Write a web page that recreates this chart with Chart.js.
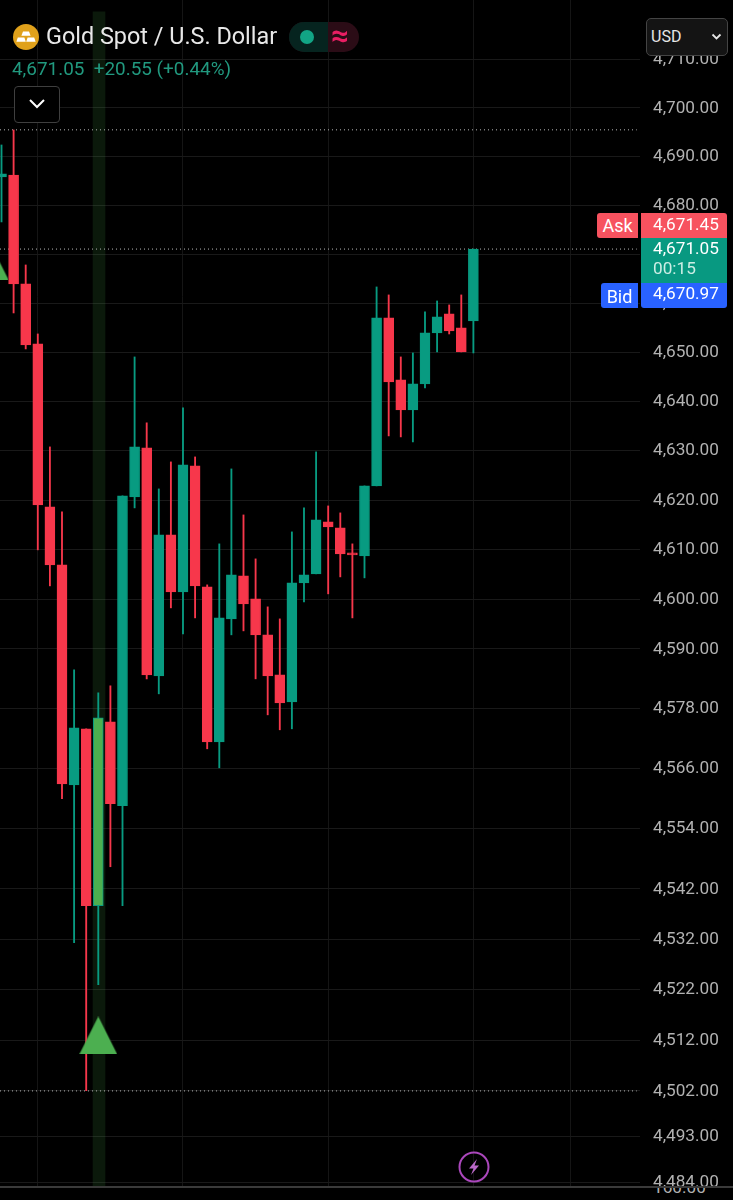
<!DOCTYPE html>
<html>
<head>
<meta charset="utf-8">
<title>Gold Spot / U.S. Dollar</title>
<script src="https://cdn.jsdelivr.net/npm/chart.js@4/dist/chart.umd.min.js"></script>
<style>
  html, body { margin: 0; padding: 0; background: #000; }
  body { width: 733px; height: 1200px; position: relative; overflow: hidden; font-family: Roboto, sans-serif; }
  #wrap { position: absolute; left: 0; top: 0; width: 733px; height: 1200px; }
  .abs { position: absolute; white-space: nowrap; }
  .tag { position: absolute; color: #fff; font-size: 17.2px; line-height: 25px; text-align: center; }
</style>
</head>
<body>
<div id="wrap"><canvas id="grafico" width="733" height="1200"></canvas></div>

<!-- cabecera -->
<svg class="abs" style="left:13px;top:24px" width="26" height="26" viewBox="0 0 26 26">
  <circle cx="13" cy="13" r="13" fill="#e0a11b"/>
  <path d="M10 7.5h6l1.6 4.2H8.4z M4.8 13.4h6.6l1.4 4.4H3.4z M14.6 13.4h6.6l1.4 4.4h-9.4z" fill="#fff"/>
</svg>
<div class="abs" style="left:46px;top:22px;font-size:23.4px;line-height:28px;color:#e8e8e8">Gold Spot / U.S. Dollar</div>
<div class="abs" style="left:289px;top:22px;width:70px;height:30px;border-radius:15px;overflow:hidden;background:#2b0c16">
  <div class="abs" style="left:0;top:0;width:39px;height:30px;background:#06241f"></div>
  <div class="abs" style="left:11px;top:8px;width:14px;height:14px;border-radius:7px;background:#12a585"></div>
  <div class="abs" style="left:42px;top:-1px;font-size:31px;line-height:30px;font-weight:700;color:#e91e63">≈</div>
</div>
<div class="abs" style="left:12px;top:58px;font-size:18.9px;line-height:22px;color:#21997f">4,671.05 &nbsp;+20.55 (+0.44%)</div>
<div class="abs" style="left:14px;top:86px;width:44px;height:35px;border:1.5px solid #3f3f3f;border-radius:4px;background:#000">
  <svg class="abs" style="left:13px;top:11px" width="18" height="12" viewBox="0 0 18 12"><path d="M2 2l7 7 7-7" fill="none" stroke="#fff" stroke-width="2"/></svg>
</div>
<div class="abs" style="left:646px;top:18px;width:80px;height:36px;border:1.5px solid #444;border-radius:5px;background:#141414;color:#e6e6e6;font-size:16px;line-height:36px;text-indent:4px">USD
  <svg class="abs" style="left:64px;top:14px" width="11" height="8" viewBox="0 0 11 8"><path d="M1.5 1.5l4 4 4-4" fill="none" stroke="#e6e6e6" stroke-width="1.8"/></svg>
</div>

<!-- etiquetas de precio -->
<div class="tag" style="left:597px;top:213px;width:41px;height:25px;background:#f7525f;border-radius:3px 0 0 3px;font-size:18px;line-height:26px">Ask</div>
<div class="tag" style="left:641px;top:213px;width:86px;height:25px;background:#f7525f;border-radius:0 3px 0 0;line-height:22px;text-indent:4px">4,671.45</div>
<div class="tag" style="left:641px;top:238px;width:86px;height:45px;background:#089981;line-height:20px;box-sizing:border-box;text-indent:4px">4,671.05<br><span style="color:#cdeee5;display:block;text-align:left;padding-left:8px">00:15</span></div>
<div class="tag" style="left:601px;top:283px;width:37px;height:25px;background:#2962ff;border-radius:3px 0 0 3px;font-size:18px;line-height:27px">Bid</div>
<div class="tag" style="left:641px;top:283px;width:86px;height:25px;background:#2962ff;border-radius:0 0 3px 3px;line-height:21px;text-indent:4px">4,670.97</div>

<svg class="abs" style="left:458px;top:1151px" width="32" height="32" viewBox="0 0 32 32">
  <circle cx="16" cy="16" r="14.5" fill="none" stroke="#ab47bc" stroke-width="2"/>
  <path d="M19 8l-8 9.5h4.5l-2.5 6.5 8-9.5h-4.5z" fill="#ba68c8"/>
</svg>

<script>
// Velas de 40 periodos, de izquierda a derecha
var aperturas = [4685.82, 4686.23, 4663.92, 4651.69, 4618.61, 4606.90, 4562.75, 4573.95, 4538.66, 4575.35,
                 4558.56, 4620.63, 4630.56, 4584.57, 4612.95, 4601.46, 4626.91, 4602.47, 4571.35, 4596.02,
                 4604.68, 4600.05, 4592.81, 4584.77, 4579.36, 4603.27, 4605.09, 4615.58, 4614.37, 4609.32,
                 4608.71, 4622.86, 4656.99, 4644.36, 4638.27, 4643.55, 4653.93, 4657.80, 4654.95, 4656.37];
var maximos =   [4692.39, 4695.47, 4667.80, 4653.72, 4630.76, 4617.60, 4585.78, 4573.95, 4581.16, 4582.57,
                 4620.84, 4649.04, 4635.63, 4622.25, 4627.72, 4638.67, 4628.73, 4602.87, 4611.14, 4626.30,
                 4616.99, 4608.11, 4598.44, 4596.02, 4613.56, 4618.41, 4629.75, 4618.81, 4617.40, 4611.14,
                 4622.86, 4663.31, 4661.68, 4649.04, 4649.85, 4658.21, 4660.45, 4659.64, 4661.68, 4671.05];
var minimos =   [4676.60, 4658.00, 4650.67, 4609.93, 4602.67, 4559.96, 4531.32, 4502.07, 4523.00, 4546.41,
                 4538.66, 4618.41, 4583.97, 4580.96, 4598.24, 4593.01, 4596.22, 4569.95, 4566.15, 4592.81,
                 4593.61, 4583.97, 4576.75, 4573.75, 4573.95, 4599.44, 4605.09, 4601.06, 4604.48, 4596.22,
                 4604.28, 4622.86, 4632.99, 4632.79, 4631.77, 4642.74, 4650.06, 4653.72, 4650.06, 4649.85];
var cierres =   [4686.44, 4663.92, 4651.48, 4619.02, 4606.90, 4562.95, 4574.15, 4538.66, 4576.15, 4558.96,
                 4620.84, 4630.76, 4584.77, 4612.95, 4601.46, 4627.11, 4602.67, 4571.35, 4596.22, 4604.88,
                 4599.04, 4592.81, 4584.57, 4579.16, 4603.27, 4604.88, 4615.98, 4614.57, 4609.12, 4608.92,
                 4622.86, 4656.99, 4643.96, 4638.27, 4643.55, 4653.93, 4657.19, 4654.34, 4650.06, 4671.05];

var ticksPrecio = [4710, 4700, 4690, 4680, 4670, 4660, 4650, 4640, 4630, 4620, 4610, 4600, 4590,
                   4578, 4566, 4554, 4542, 4532, 4522, 4512, 4502, 4493, 4484];
var ticksTiempo = [3, 15, 27, 39, 47];

var indiceSenal = 8;          // vela marcada con la banda verde
var senalesX = [-1, 8];       // triangulos de compra
var senalesY = [4668.7, 4512.96];
var nivelMaximo = 4695.5;
var nivelUltimo = 4671.05;
var nivelMinimo = 4502;

var ROJO = '#f7374b';
var VERDE = '#089b81';
var VERDE_SENAL = '#4caf50';

var PRECIO_MIN = 4483.1, PRECIO_MAX = 4722.27;
var X_MIN = -0.124, X_MAX = 52.77;
var BANDA_MAX = 4719.8;

var indices = aperturas.map(function(_, i) { return i; });

function esAlcista(i) {
    return cierres[i] >= aperturas[i];
}

function colorVela(i) {
    return esAlcista(i) ? VERDE : ROJO;
}

// triangulo propio, el de Chart.js es demasiado ancho
function crearTriangulo() {
    var c = document.createElement('canvas');
    c.width = 38;
    c.height = 38;
    var ctx = c.getContext('2d');
    ctx.fillStyle = VERDE_SENAL;
    ctx.beginPath();
    ctx.moveTo(19, 0);
    ctx.lineTo(38, 38);
    ctx.lineTo(0, 38);
    ctx.closePath();
    ctx.fill();
    return c;
}

function lineaNivel(valor) {
    return {
        type: 'line',
        data: [{x: X_MIN, y: valor}, {x: 52.5, y: valor}],
        borderColor: '#b8b8b8',
        borderWidth: 1,
        borderDash: [1, 3],
        pointRadius: 0,
        order: 4
    };
}

var datasets = [
    {
        // banda de fondo
        type: 'bar',
        data: [{x: indiceSenal + 0.06, y: [PRECIO_MIN, BANDA_MAX]}],
        backgroundColor: 'rgba(76,175,80,0.14)',
        barThickness: 12,
        grouped: false,
        order: 5
    },
    lineaNivel(nivelMaximo),
    lineaNivel(nivelUltimo),
    lineaNivel(nivelMinimo),
    {
        // mechas
        type: 'bar',
        data: indices.map(function(i) { return {x: i, y: [minimos[i], maximos[i]]}; }),
        backgroundColor: indices.map(colorVela),
        barThickness: 1.2,
        grouped: false,
        order: 3
    },
    {
        // cuerpos
        type: 'bar',
        data: indices.map(function(i) { return {x: i, y: [aperturas[i], cierres[i]]}; }),
        backgroundColor: indices.map(function(i) { return i === indiceSenal ? VERDE_SENAL : colorVela(i); }),
        borderColor: indices.map(function(i) { return i === indiceSenal ? VERDE : colorVela(i); }),
        borderWidth: 1,
        borderSkipped: false,
        barThickness: 10,
        grouped: false,
        order: 2
    },
    {
        type: 'scatter',
        data: senalesX.map(function(x, i) { return {x: x, y: senalesY[i]}; }),
        pointStyle: crearTriangulo(),
        pointRadius: 20,
        order: 1
    }
];

var grafico = new Chart(document.getElementById('grafico'), {
    type: 'bar',
    data: {datasets: datasets},
    options: {
        responsive: false,
        animation: false,
        events: [],
        layout: {padding: 0, autoPadding: false},
        plugins: {legend: {display: false}, tooltip: {enabled: false}},
        scales: {
            x: {
                type: 'linear',
                offset: false,
                min: X_MIN,
                max: X_MAX,
                border: {display: false},
                grid: {color: '#151515', lineWidth: 1, drawTicks: false, offset: false},
                ticks: {display: false},
                afterBuildTicks: function(eje) {
                    eje.ticks = ticksTiempo.map(function(v) { return {value: v}; });
                },
                afterFit: function(eje) { eje.height = 13; }
            },
            y: {
                type: 'logarithmic',
                position: 'right',
                min: PRECIO_MIN,
                max: PRECIO_MAX,
                border: {display: false},
                grid: {color: '#191919', lineWidth: 1, drawTicks: false},
                ticks: {
                    color: '#b2b2b2',
                    font: {family: 'Roboto', size: 17.2},
                    padding: 13,
                    labelOffset: 0.5,
                    autoSkip: false,
                    callback: function(v) {
                        return v.toLocaleString('en-US', {minimumFractionDigits: 2, maximumFractionDigits: 2});
                    }
                },
                afterBuildTicks: function(eje) {
                    eje.ticks = ticksPrecio.map(function(v) { return {value: v}; });
                },
                afterFit: function(eje) {
                    eje.width = 93;
                    // sin margen extra, la escala llega hasta arriba del canvas
                    eje.paddingTop = 0;
                    eje.paddingBottom = 0;
                }
            }
        }
    }
});
</script>
<div class="abs" style="left:0;top:1186px;width:733px;height:2px;background:#3a3a3a"></div>
<div class="abs" style="left:0;top:1188px;width:733px;height:12px;overflow:hidden;background:#000">
  <div class="abs" style="left:653px;top:-9px;font-size:17.2px;line-height:17px;color:#b2b2b2">160.00</div>
</div>
</body>
</html>
